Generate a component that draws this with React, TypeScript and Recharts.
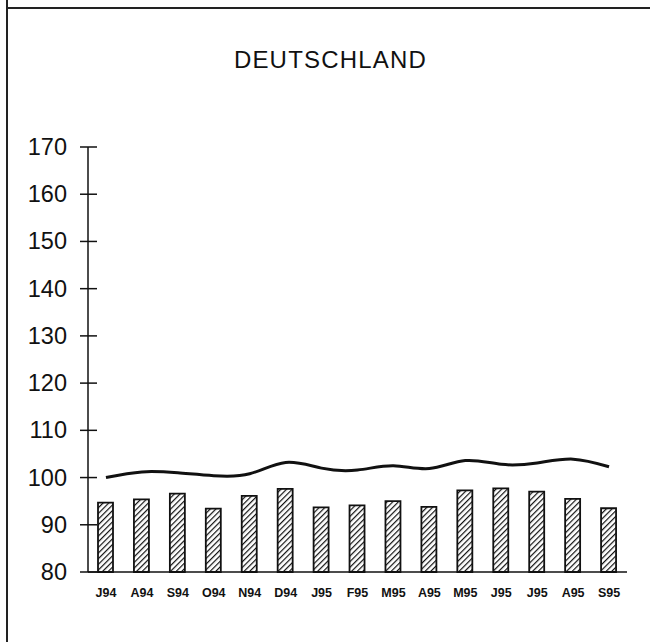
import { ComposedChart, Bar, Line, XAxis, YAxis } from "recharts";

const months = ["J94", "A94", "S94", "O94", "N94", "D94", "J95", "F95", "M95", "A95", "M95", "J95", "J95", "A95", "S95"];
const barValues = [94.7, 95.4, 96.6, 93.4, 96.1, 97.6, 93.7, 94.1, 95.0, 93.8, 97.3, 97.7, 97.0, 95.5, 93.5];
const lineValues = [100.0, 101.2, 101.0, 100.4, 100.8, 103.2, 102.0, 101.6, 102.5, 101.9, 103.6, 102.8, 103.1, 103.9, 102.3];
const yTicks = [80, 90, 100, 110, 120, 130, 140, 150, 160, 170];

const data = months.map((m, i) => ({ month: m, bar: barValues[i], line: lineValues[i] }));

const FONT = '"Liberation Sans", Arial, Helvetica, sans-serif';

function YTick(props: any) {
  const { x, y, payload } = props;
  return (
    <g>
      <line x1={x - 8} x2={x + 9} y1={y} y2={y} stroke="#111" strokeWidth={1.5} />
      <text x={x - 21} y={y} textAnchor="end" dominantBaseline="central" fontSize={23.5} fill="#111" fontFamily={FONT}>
        {payload.value}
      </text>
    </g>
  );
}

export default function App() {
  return (
    <div style={{ position: "absolute", left: 0, top: 0, width: 650, height: 642, background: "#fff", overflow: "hidden" }}>
      {/* frame lines from the scan */}
      <div style={{ position: "absolute", left: 6, top: 7, width: 644, height: 2, background: "#222" }} />
      <div style={{ position: "absolute", left: 6, top: 0, width: 2, height: 642, background: "#222" }} />
      <div style={{ position: "absolute", left: 0, top: 46, width: 650, paddingLeft: 11, boxSizing: "border-box", textAlign: "center", fontFamily: FONT, fontSize: 24, letterSpacing: 1.2, color: "#111" }}>
        DEUTSCHLAND
      </div>
      <div style={{ position: "absolute", left: 0, top: 0 }}>
        <ComposedChart width={650} height={642} data={data} margin={{ top: 147, right: 23, bottom: 0, left: 0 }}>
          <defs>
            <pattern id="hatch" width="4" height="4" patternUnits="userSpaceOnUse" patternTransform="rotate(45)">
              <rect width="4" height="4" fill="#fff" />
              <line x1="0" y1="0" x2="0" y2="4" stroke="#111" strokeWidth={2.4} />
            </pattern>
          </defs>
          <XAxis
            dataKey="month"
            axisLine={{ stroke: "#111", strokeWidth: 1.5 }}
            tickLine={false}
            tickSize={0}
            tickMargin={16}
            height={70}
            interval={0}
            tick={{ fontSize: 12.5, fontWeight: "bold", fill: "#111", fontFamily: FONT }}
          />
          <YAxis
            domain={[80, 170]}
            ticks={yTicks}
            width={88}
            interval={0}
            axisLine={{ stroke: "#111", strokeWidth: 1.5 }}
            tickLine={false}
            tickSize={0}
            tickMargin={0}
            tick={<YTick />}
          />
          <Bar dataKey="bar" barSize={15} fill="url(#hatch)" stroke="#111" strokeWidth={1.8} isAnimationActive={false} />
          <Line dataKey="line" type="natural" stroke="#111" strokeWidth={3} dot={false} isAnimationActive={false} />
        </ComposedChart>
      </div>
    </div>
  );
}
